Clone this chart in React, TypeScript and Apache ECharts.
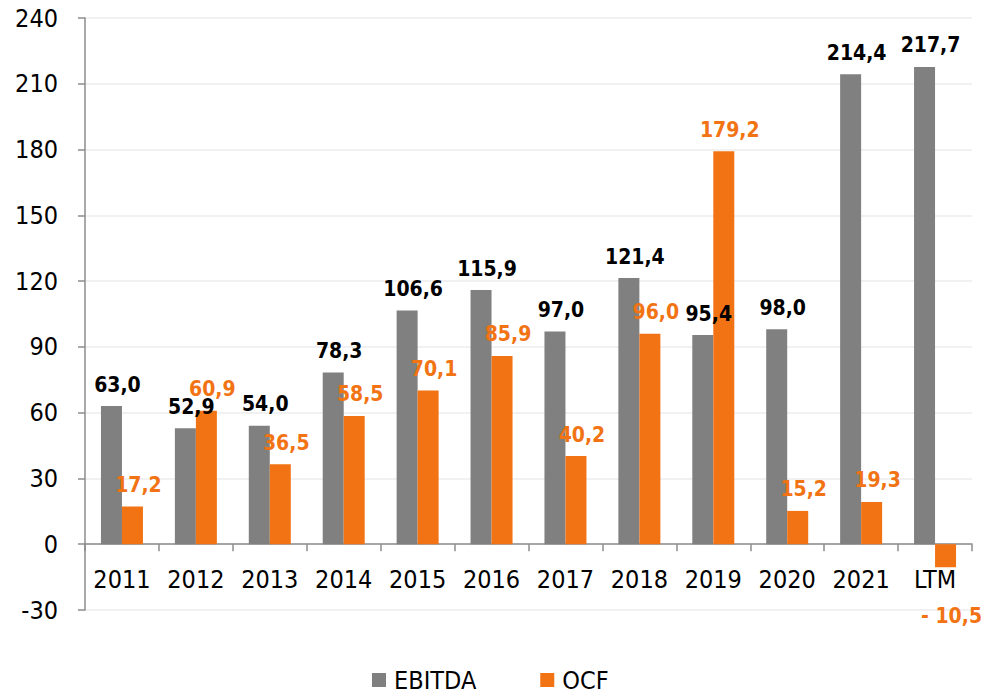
import React, { useEffect, useRef } from "react";
import * as echarts from "echarts";

const categories = ["2011", "2012", "2013", "2014", "2015", "2016", "2017", "2018", "2019", "2020", "2021", "LTM"];
const ebitda = [63.0, 52.9, 54.0, 78.3, 106.6, 115.9, 97.0, 121.4, 95.4, 98.0, 214.4, 217.7];
const ocf = [17.2, 60.9, 36.5, 58.5, 70.1, 85.9, 40.2, 96.0, 179.2, 15.2, 19.3, -10.5];
const yTicks = { min: -30, max: 240, interval: 30 };

const GRAY = "#808080";
const ORANGE = "#F27314";
const FONT = "'DejaVu Sans Condensed', Tahoma, sans-serif";

const fmt = (v: number) => (v < 0 ? "- " + Math.abs(v).toFixed(1).replace(".", ",") : v.toFixed(1).replace(".", ","));

export default function App() {
  const ref = useRef<HTMLDivElement>(null);
  useEffect(() => {
    document.body.style.margin = "0";
    const chart = echarts.init(ref.current!, null, { renderer: "svg" });
    const labelBase = {
      show: true,
      position: "top" as const,
      distance: 5,
      offset: [6, -6],
      fontFamily: FONT,
      fontSize: 21,
      fontWeight: "bold" as const,
      formatter: (p: any) => fmt(p.value),
    };
    chart.setOption({
      animation: false,
      textStyle: { fontFamily: FONT },
      grid: { left: 85, right: 26, top: 18, bottom: 84, containLabel: false },
      legend: {
        top: 667,
        left: 372,
        padding: 0,
        icon: "rect",
        itemWidth: 14,
        itemHeight: 14,
        itemGap: 64,
        textStyle: { fontFamily: FONT, fontSize: 25, lineHeight: 26, color: "#000", padding: [0, 0, 0, 3] },
        data: ["EBITDA", "OCF"],
      },
      xAxis: {
        type: "category",
        data: categories,
        axisLine: { onZero: true, lineStyle: { color: "#8c8c8c", width: 1.5 } },
        axisTick: { show: true, length: 7, lineStyle: { color: "#8c8c8c", width: 1.5 } },
        axisLabel: { interval: 0, color: "#000", fontFamily: FONT, fontSize: 25, margin: -43 },
      },
      yAxis: {
        type: "value",
        min: yTicks.min,
        max: yTicks.max,
        interval: yTicks.interval,
        axisLine: { show: true, lineStyle: { color: "#8c8c8c", width: 1.5 } },
        axisTick: { show: true, length: 7, lineStyle: { color: "#8c8c8c", width: 1.5 } },
        axisLabel: { color: "#000", fontFamily: FONT, fontSize: 25, margin: 27 },
        splitLine: { show: true, lineStyle: { color: "#ececec", width: 1.5 } },
      },
      series: [
        {
          name: "EBITDA",
          type: "bar",
          data: ebitda,
          barWidth: 21,
          barGap: "0%",
          itemStyle: { color: GRAY },
          label: { ...labelBase, color: "#000" },
        },
        {
          name: "OCF",
          type: "bar",
          data: ocf.map((v) =>
            v < 0
              ? { value: v, label: { position: "bottom", offset: [6, 33] } }
              : v
          ),
          barWidth: 21,
          itemStyle: { color: ORANGE },
          label: { ...labelBase, color: ORANGE },
        },
      ],
    });
    return () => chart.dispose();
  }, []);
  return <div ref={ref} style={{ width: 998, height: 694 }} />;
}
